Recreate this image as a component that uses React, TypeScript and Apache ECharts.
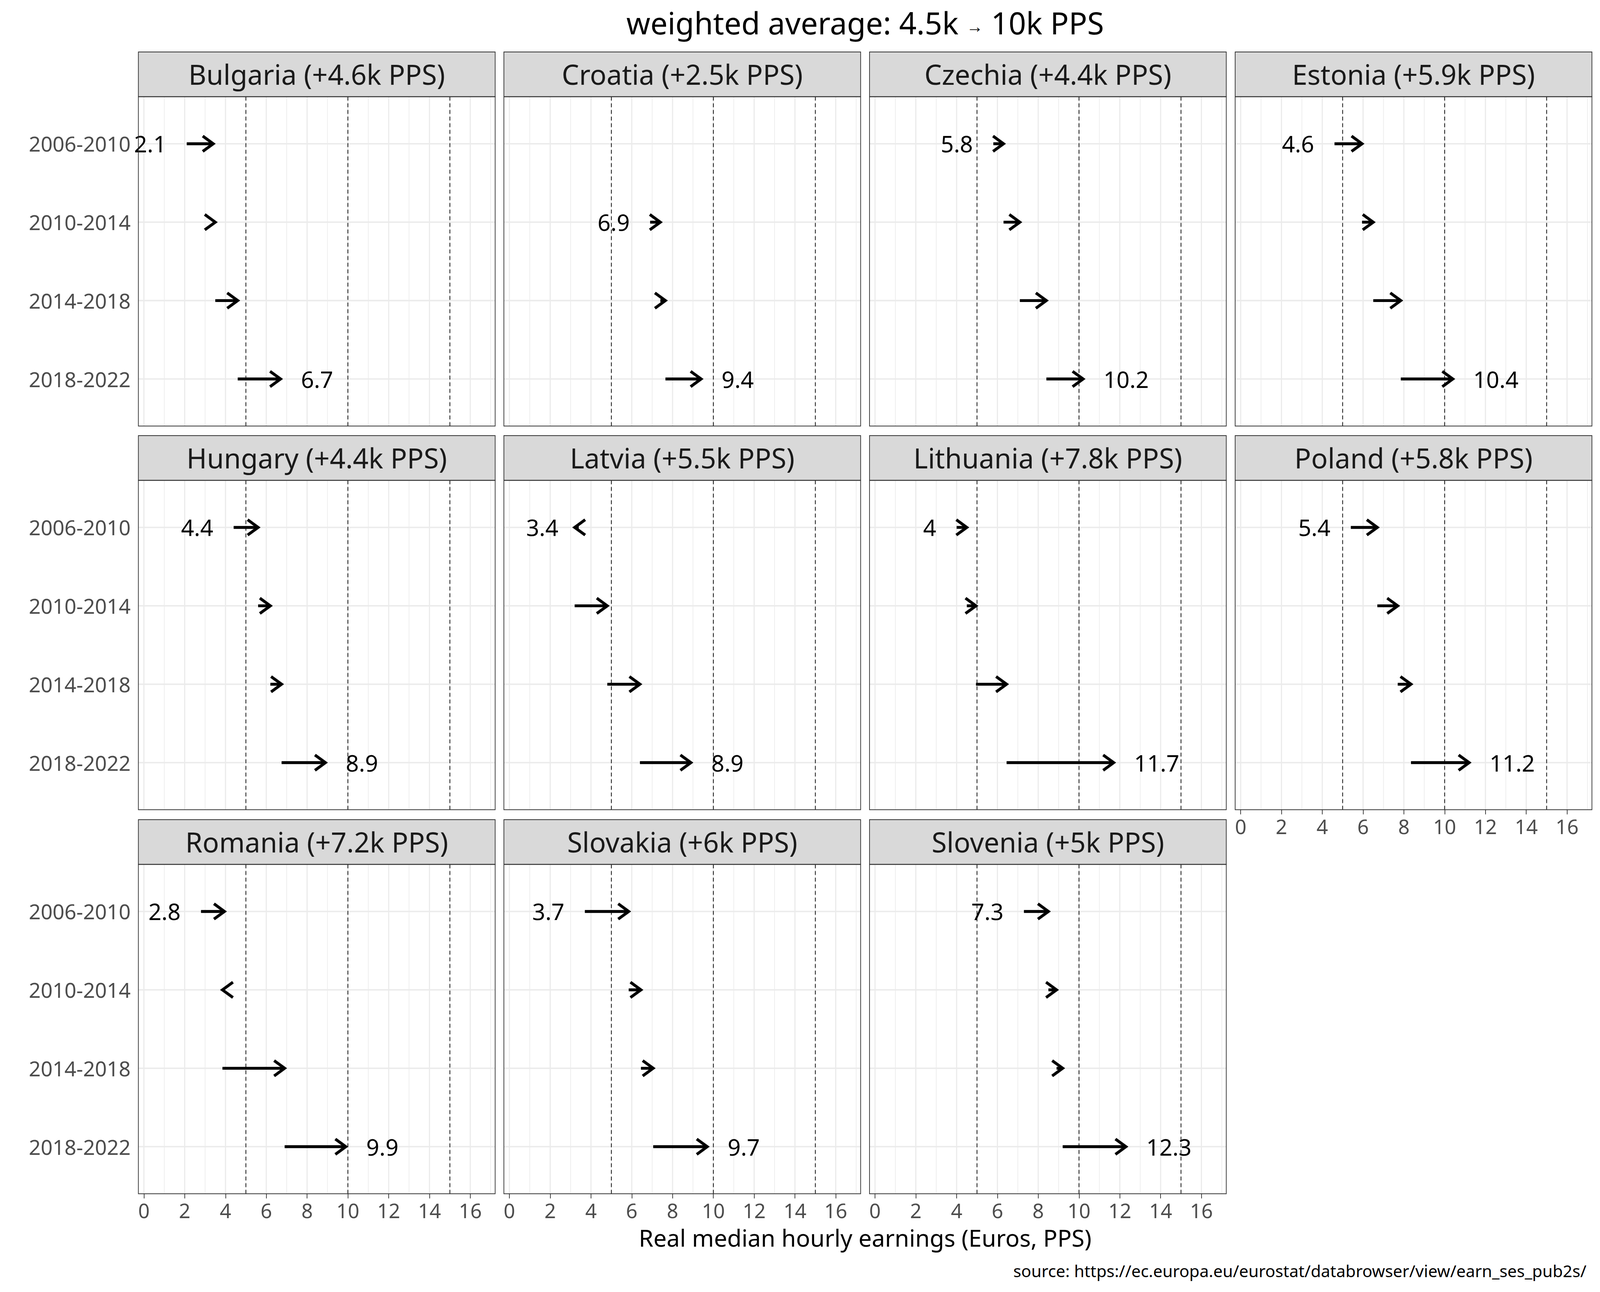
import React, { useEffect, useRef } from "react";
import * as echarts from "echarts";

// ---------- data ----------
const countries = ["Bulgaria", "Croatia", "Czechia", "Estonia", "Hungary", "Latvia", "Lithuania", "Poland", "Romania", "Slovakia", "Slovenia"];
const changes = ["+4.6k", "+2.5k", "+4.4k", "+5.9k", "+4.4k", "+5.5k", "+7.8k", "+5.8k", "+7.2k", "+6k", "+5k"];
const periods = ["2006-2010", "2010-2014", "2014-2018", "2018-2022"];
// real median hourly earnings (PPS) in 2006, 2010, 2014, 2018, 2022
const bulgaria = [2.1, 3.4, 3.5, 4.6, 6.7];
const croatia = [null, 6.9, 7.4, 7.65, 9.4];
const czechia = [5.8, 6.3, 7.1, 8.4, 10.2];
const estonia = [4.6, 5.95, 6.5, 7.85, 10.4];
const hungary = [4.4, 5.6, 6.2, 6.75, 8.9];
const latvia = [3.4, 3.2, 4.8, 6.4, 8.9];
const lithuania = [4, 4.5, 4.95, 6.45, 11.7];
const poland = [5.4, 6.7, 7.7, 8.35, 11.2];
const romania = [2.8, 3.95, 3.85, 6.9, 9.9];
const slovakia = [3.7, 5.85, 6.45, 7.05, 9.7];
const slovenia = [7.3, 8.5, 8.9, 9.2, 12.3];
const earnings: (number | null)[][] = [bulgaria, croatia, czechia, estonia, hungary, latvia, lithuania, poland, romania, slovakia, slovenia];

const xTicks = [0, 2, 4, 6, 8, 10, 12, 14, 16];
const xMinor = [1, 3, 5, 7, 9, 11, 13, 15, 17];
const yRows = [1, 2, 3, 4];
const refLines = [5, 10, 15];
const titleParts = ["weighted average: 4.5k ", "→", " 10k PPS"];
const xAxisTitle = "Real median hourly earnings (Euros, PPS)";
const sourceText = "source: https://ec.europa.eu/eurostat/databrowser/view/earn_ses_pub2s/";

// ---------- layout (design pixels, 4960 x 3307) ----------
const W = 4960;
const H = 3307;
const FONT = "Noto Sans";
const COL_LEFT = [429, 1562, 2695.5, 3829];
const ROW_TOP = [133, 1115, 2098];
const PANEL_W = 1106;
const STRIP_H = 114.5;
const PANEL_H = 843;
const X_MIN = -0.27;
const X_MAX = 17.22;
const Y_MIN = 0.4;
const Y_MAX = 4.6;
const LABEL_GAP = 1.0;

function measure(text: string, size: number) {
  const c = document.createElement("canvas").getContext("2d");
  if (!c) return text.length * size * 0.55;
  c.font = `${size}px "${FONT}"`;
  return c.measureText(text).width;
}

function buildOption(sx: number, sy: number) {
  const fs = sx * 1.04; // font scale
  const ls = (sx + sy) / 2; // line scale
  const grids: any[] = [];
  const xAxes: any[] = [];
  const yAxes: any[] = [];
  const series: any[] = [];
  const graphics: any[] = [];

  // title in three parts (small arrow in the middle)
  const tBig = 91 * fs;
  const tSmall = 50 * fs;
  const w1 = measure(titleParts[0], tBig);
  const w2 = measure(titleParts[1], tSmall);
  const w3 = measure(titleParts[2], tBig);
  let tx = 2682 * sx - (w1 + w2 + w3) / 2;
  const ty = 57 * sy;
  [
    [titleParts[0], tBig, w1, 0],
    [titleParts[1], tSmall, w2, 9 * sy],
    [titleParts[2], tBig, w3, 0],
  ].forEach(([t, size, w, dy]) => {
    graphics.push({
      type: "text",
      x: tx,
      y: ty + (dy as number),
      z: 100,
      style: { text: t, fontSize: size, fontFamily: FONT, fill: "#000", align: "left", verticalAlign: "middle" },
    });
    tx += w as number;
  });

  countries.forEach((name, i) => {
    const col = i % 4;
    const row = Math.floor(i / 4);
    const left = COL_LEFT[col];
    const stripTop = ROW_TOP[row];
    const top = stripTop + STRIP_H;
    const showX = row === 2 || (row === 1 && col === 3);
    const showY = col === 0;

    grids.push({ left: left * sx, top: top * sy, width: PANEL_W * sx, height: PANEL_H * sy, show: false, containLabel: false });
    xAxes.push({
      type: "value",
      gridIndex: i,
      min: X_MIN,
      max: X_MAX,
      axisLine: { show: false },
      splitLine: { show: false },
      axisTick: { show: showX, customValues: xTicks, length: 12 * sy, lineStyle: { color: "#333", width: 2 * ls } },
      axisLabel: { show: showX, customValues: xTicks, fontSize: 60 * fs, fontFamily: FONT, color: "#4d4d4d", margin: 16 * sy },
    });
    yAxes.push({
      type: "value",
      gridIndex: i,
      min: Y_MIN,
      max: Y_MAX,
      inverse: true,
      axisLine: { show: false },
      splitLine: { show: false },
      axisTick: { show: showY, customValues: yRows, length: 12 * sx, lineStyle: { color: "#333", width: 2 * ls } },
      axisLabel: {
        show: showY,
        customValues: yRows,
        formatter: (v: number) => periods[Math.round(v) - 1] ?? "",
        fontSize: 62 * fs,
        fontFamily: FONT,
        color: "#4d4d4d",
        margin: 24 * sx,
      },
    });

    // grid lines
    const gridData: number[][] = [
      ...xTicks.map((v) => [v, 0]),
      ...xMinor.map((v) => [v, 1]),
      ...yRows.map((v) => [v, 2]),
    ];
    series.push({
      type: "custom",
      xAxisIndex: i,
      yAxisIndex: i,
      silent: true,
      z: 1,
      clip: false,
      data: gridData,
      encode: { x: 0 },
      renderItem: (_p: any, api: any) => {
        const v = api.value(0) as number;
        const kind = api.value(1) as number;
        let a, b;
        if (kind === 2) {
          a = api.coord([X_MIN, v]);
          b = api.coord([X_MAX, v]);
        } else {
          a = api.coord([v, Y_MIN]);
          b = api.coord([v, Y_MAX]);
        }
        return {
          type: "line",
          shape: { x1: a[0], y1: a[1], x2: b[0], y2: b[1] },
          style: { stroke: "#ebebeb", lineWidth: kind === 1 ? 2 * sx : kind === 2 ? 3.6 * sy : 3.6 * sx },
        };
      },
    });

    // dashed reference lines
    series.push({
      type: "custom",
      xAxisIndex: i,
      yAxisIndex: i,
      silent: true,
      z: 2,
      clip: false,
      data: refLines.map((v) => [v, 1]),
      encode: { x: 0 },
      renderItem: (_p: any, api: any) => {
        const v = api.value(0) as number;
        const a = api.coord([v, Y_MIN]);
        const b = api.coord([v, Y_MAX]);
        return {
          type: "line",
          shape: { x1: a[0], y1: a[1], x2: b[0], y2: b[1] },
          style: { stroke: "#000", lineWidth: 2 * ls, lineDash: [10 * sy, 7 * sy] },
        };
      },
    });

    // arrows
    const vals = earnings[i];
    const items: number[][] = [];
    for (let k = 0; k < 4; k++) {
      const a = vals[k];
      const b = vals[k + 1];
      if (a != null && b != null) items.push([a, k + 1, b, 0]);
    }
    if (items.length) {
      items[0][3] = 1;
      items[items.length - 1][3] = items.length === 1 ? 3 : 2;
    }
    series.push({
      type: "custom",
      xAxisIndex: i,
      yAxisIndex: i,
      silent: true,
      z: 5,
      clip: false,
      data: items,
      encode: { x: 0, y: 1 },
      renderItem: (_p: any, api: any) => {
        const st = api.value(0) as number;
        const r = api.value(1) as number;
        const e = api.value(2) as number;
        const lt = api.value(3) as number;
        const p0 = api.coord([st, r]);
        const p1 = api.coord([e, r]);
        const d = e >= st ? 1 : -1;
        const ang = (31 * Math.PI) / 180;
        const dx = 38 * Math.cos(ang) * sx;
        const dy = 38 * Math.sin(ang) * sy;
        const lw = 7.4 * sy;
        const children: any[] = [
          {
            type: "line",
            shape: { x1: p0[0], y1: p0[1], x2: p1[0], y2: p1[1] },
            style: { stroke: "#000", lineWidth: lw, lineCap: "butt" },
          },
          {
            type: "polyline",
            shape: {
              points: [
                [p1[0] - d * dx, p1[1] - dy],
                [p1[0], p1[1]],
                [p1[0] - d * dx, p1[1] + dy],
              ],
            },
            style: { stroke: "#000", fill: null, lineWidth: lw, lineJoin: "miter", miterLimit: 10, lineCap: "butt" },
          },
        ];
        if (lt === 1 || lt === 3) {
          const pos = api.coord([st - LABEL_GAP, r]);
          children.push({
            type: "text",
            x: pos[0],
            y: pos[1],
            style: { text: String(st), fontSize: 68 * fs, fontFamily: FONT, fill: "#000", align: "right", verticalAlign: "middle" },
          });
        }
        if (lt === 2 || lt === 3) {
          const pos = api.coord([e + LABEL_GAP, r]);
          children.push({
            type: "text",
            x: pos[0],
            y: pos[1],
            style: { text: String(e), fontSize: 68 * fs, fontFamily: FONT, fill: "#000", align: "left", verticalAlign: "middle" },
          });
        }
        return { type: "group", children };
      },
    });

    // strip + border
    graphics.push({
      type: "rect",
      z: 100,
      shape: { x: left * sx, y: stripTop * sy, width: PANEL_W * sx, height: STRIP_H * sy },
      style: { fill: "#d9d9d9", stroke: "#333", lineWidth: 2 * ls },
    });
    graphics.push({
      type: "text",
      z: 101,
      x: (left + PANEL_W / 2) * sx,
      y: (stripTop + STRIP_H / 2) * sy,
      style: {
        text: `${name} (${changes[i]} PPS)`,
        fontSize: 82 * fs,
        fontFamily: FONT,
        fill: "#1a1a1a",
        align: "center",
        verticalAlign: "middle",
      },
    });
    graphics.push({
      type: "rect",
      z: 100,
      shape: { x: left * sx, y: top * sy, width: PANEL_W * sx, height: PANEL_H * sy },
      style: { fill: "none", stroke: "#333", lineWidth: 2 * ls },
    });
  });

  graphics.push({
    type: "text",
    z: 100,
    x: 2682 * sx,
    y: 3168 * sy,
    style: { text: xAxisTitle, fontSize: 70 * fs, fontFamily: FONT, fill: "#000", align: "center", verticalAlign: "middle" },
  });
  graphics.push({
    type: "text",
    z: 100,
    x: 4918 * sx,
    y: 3252 * sy,
    style: { text: sourceText, fontSize: 49.5 * fs, fontFamily: FONT, fill: "#000", align: "right", verticalAlign: "middle" },
  });

  return {
    animation: false,
    backgroundColor: "#fff",
    grid: grids,
    xAxis: xAxes,
    yAxis: yAxes,
    series,
    graphic: { elements: graphics },
  };
}

export default function App() {
  const ref = useRef<HTMLDivElement>(null);
  useEffect(() => {
    document.body.style.margin = "0";
    document.body.style.overflow = "hidden";
    const vw = window.innerWidth || W;
    const vh = window.innerHeight || H;
    const cw = Math.min(vw, W);
    const ch = Math.min(vh, H);
    const sx = cw / W;
    const sy = ch / H;
    const el = ref.current!;
    el.style.width = cw + "px";
    el.style.height = ch + "px";
    const chart = echarts.init(el, null, { renderer: "svg", width: cw, height: ch });
    chart.setOption(buildOption(sx, sy) as any);
    return () => chart.dispose();
  }, []);
  return <div ref={ref} style={{ width: W, height: H, background: "#fff" }} />;
}
